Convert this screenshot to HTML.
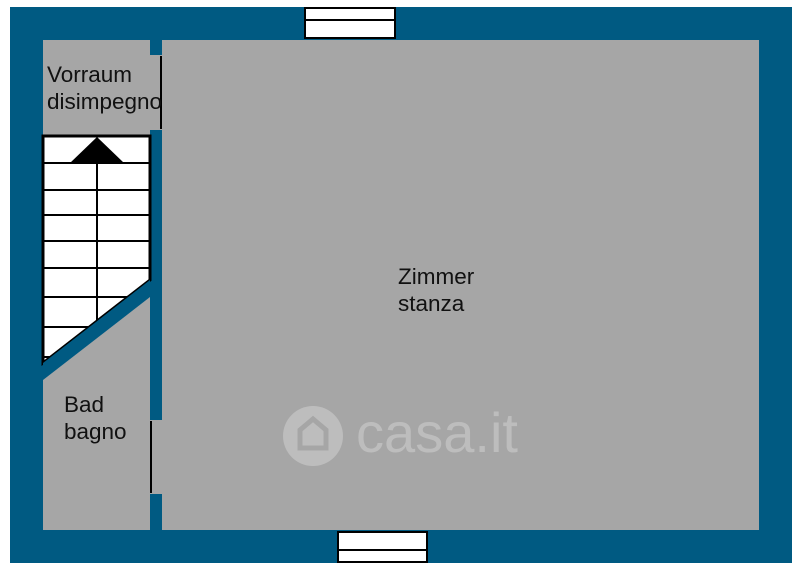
<!DOCTYPE html>
<html><head><style>body{margin:0;background:#fff}svg{display:block}</style></head><body>
<svg width="800" height="573" xmlns="http://www.w3.org/2000/svg">
<rect x="10" y="7" width="782" height="556" fill="#005a82"/>
<rect x="43" y="40" width="107" height="490" fill="#a6a6a6"/>
<rect x="162" y="40" width="597" height="490" fill="#a6a6a6"/>
<rect x="150" y="55" width="12" height="75" fill="#a6a6a6"/>
<line x1="161" y1="56" x2="161" y2="129" stroke="#000" stroke-width="2"/>
<rect x="150" y="420" width="12" height="74" fill="#a6a6a6"/>
<line x1="151" y1="421" x2="151" y2="493" stroke="#000" stroke-width="2"/>
<polygon points="43,136 150,136 150,280 43,363" fill="#fff" stroke="#000" stroke-width="3"/>
<g stroke="#000" stroke-width="2">
<line x1="43" y1="163" x2="150" y2="163"/>
<line x1="43" y1="190" x2="150" y2="190"/>
<line x1="43" y1="215" x2="150" y2="215"/>
<line x1="43" y1="241" x2="150" y2="241"/>
<line x1="43" y1="268" x2="150" y2="268"/>
<line x1="43" y1="297" x2="128" y2="297"/>
<line x1="43" y1="327" x2="89" y2="327"/>
<line x1="43" y1="357" x2="51" y2="357"/>
<line x1="97" y1="163" x2="97" y2="321"/>
</g>
<polygon points="97,137 70,163 124,163" fill="#000"/>
<polygon points="150,280 150,297 43,380 43,363" fill="#005a82"/>
<g font-family="Liberation Sans, sans-serif" font-size="22.5" fill="#111">
<text x="47" y="82">Vorraum</text>
<text x="47" y="109">disimpegno</text>
<text x="64" y="412">Bad</text>
<text x="64" y="439">bagno</text>
<text x="398" y="284">Zimmer</text>
<text x="398" y="311">stanza</text>
</g>
<circle cx="313" cy="436" r="30" fill="#bdbdbd"/>
<path d="M300 448 V430 L313 419 L326 430 V448 Z" fill="none" stroke="#a6a6a6" stroke-width="5"/>
<text x="356" y="452" font-family="Liberation Sans, sans-serif" font-size="56" fill="#bdbdbd" textLength="162" lengthAdjust="spacingAndGlyphs">casa.it</text>
<rect x="305" y="8" width="90" height="30" fill="#fff" stroke="#000" stroke-width="2"/>
<line x1="305" y1="20" x2="395" y2="20" stroke="#000" stroke-width="2"/>
<rect x="338" y="532" width="89" height="30" fill="#fff" stroke="#000" stroke-width="2"/>
<line x1="338" y1="550" x2="427" y2="550" stroke="#000" stroke-width="2"/>
</svg>
</body></html>
